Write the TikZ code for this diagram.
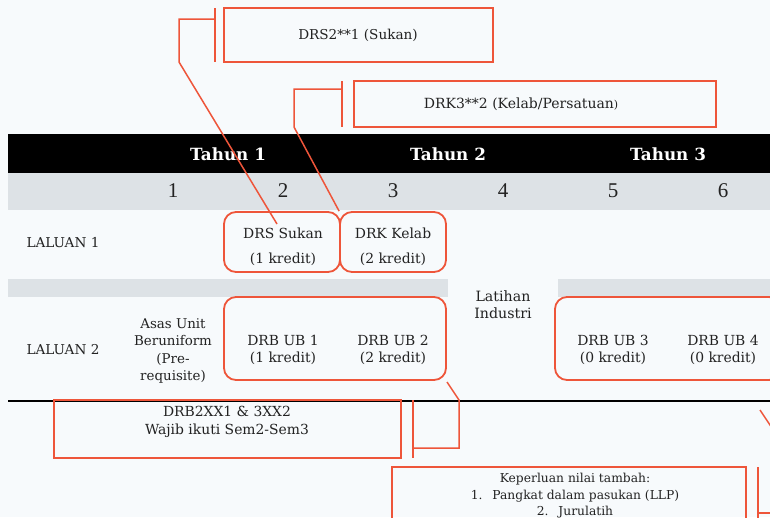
\documentclass[tikz,border=0pt]{standalone}
\usepackage{fontspec}
\setmainfont{DejaVu Serif}
\newfontfamily\numfont{Liberation Serif}
\definecolor{bgc}{HTML}{F7FAFC}
\definecolor{bandgray}{HTML}{DDE2E6}
\definecolor{callred}{HTML}{EE553A}
\definecolor{ink}{HTML}{222222}
\tikzset{
  txt/.style={text=ink, font=\fontsize{13.9}{17}\selectfont, inner sep=0pt, align=center},
  yearlbl/.style={text=white, font=\bfseries\fontsize{16.8}{20}\selectfont, inner sep=0pt},
  semlbl/.style={text=ink, font=\numfont\fontsize{21}{24}\selectfont, inner sep=0pt},
  rbox/.style={draw=callred, line width=1.8pt, rounded corners=12pt, inner sep=0pt},
  sbox/.style={draw=callred, line width=1.6pt, inner sep=0pt},
  lead/.style={draw=callred, line width=1.5pt},
}
\begin{document}
\begin{tikzpicture}[x=1pt, y=-1pt]
\useasboundingbox (0,0) rectangle (770,517);
\clip (0,0) rectangle (770,517);
\fill[bgc] (0,0) rectangle (770,517);

% table bands
\fill[black] (8,134) rectangle (770,173);
\fill[bandgray] (8,173) rectangle (770,210);
\fill[bandgray] (8,279) rectangle (448,297);
\fill[bandgray] (558,279) rectangle (770,297);
\draw[black, line width=1.8pt] (8,401) -- (770,401);

% year and semester headings
\node[yearlbl] (t1) at (228,154) {Tahun 1};
\node[yearlbl] (t2) at (448,154) {Tahun 2};
\node[yearlbl] (t3) at (668,154) {Tahun 3};
\foreach \i/\x in {1/173,2/283,3/393,4/503,5/613,6/723}
  \node[semlbl] (s\i) at (\x,191) {\i};

% row labels
\node[txt, font=\fontsize{13.6}{17}\selectfont] (lal1) at (63,243) {LALUAN 1};
\node[txt, font=\fontsize{13.6}{17}\selectfont] (lal2) at (63,350) {LALUAN 2};
\node[txt, font=\fontsize{13.4}{17.5}\selectfont] (asas) at (173,351) {Asas Unit\\Beruniform\\(Pre-\\requisite)};
\node[txt, font=\fontsize{14.2}{17}\selectfont] (lat) at (503,305) {Latihan\\Industri};

% laluan 1 boxes
\node[rbox, minimum width=116pt, minimum height=60pt] (drs) at (282,242) {};
\node[rbox, minimum width=106pt, minimum height=60pt] (drk) at (393,242) {};
\node[txt] (drsA) at (283,233) {DRS Sukan};
\node[txt] (drsB) at (283,259) {(1 kredit)};
\node[txt] (drkA) at (393,233) {DRK Kelab};
\node[txt] (drkB) at (393,259) {(2 kredit)};

% laluan 2 boxes
\node[rbox, minimum width=222pt, minimum height=83pt] (ubA) at (335,338.5) {};
\node[rbox, minimum width=226pt, minimum height=83pt] (ubB) at (668,338.5) {};
\node[txt] (ub1) at (283,350) {DRB UB 1\\(1 kredit)};
\node[txt] (ub2) at (393,350) {DRB UB 2\\(2 kredit)};
\node[txt] (ub3) at (613,350) {DRB UB 3\\(0 kredit)};
\node[txt] (ub4) at (723,350) {DRB UB 4\\(0 kredit)};

% callout notes
\node[sbox, minimum width=269pt, minimum height=54pt] (c1) at (358.5,35) {};
\node[txt, font=\fontsize{13.6}{16}\selectfont] (c1t) at (358,35) {DRS2**1 (Sukan)};
\node[sbox, minimum width=362pt, minimum height=46pt] (c2) at (535,104) {};
\node[txt, font=\fontsize{14}{17}\selectfont] (c2t) at (521,104) {DRK3**2 (Kelab/Persatuan{\fontsize{11}{13}\selectfont)}};
\node[sbox, minimum width=347pt, minimum height=58pt] (c3) at (227.5,429) {};
\node[txt, font=\fontsize{13.9}{18}\selectfont] (c3t) at (227,422) {DRB2XX1 \& 3XX2\\Wajib ikuti Sem2-Sem3};
\node[sbox, minimum width=354pt, minimum height=70pt] (c4) at (569,502) {};
\node[txt, font=\fontsize{12.3}{16.5}\selectfont, anchor=north] (c4t) at (575,473) {Keperluan nilai tambah:\\1.\hspace{0.8em}Pangkat dalam pasukan (LLP)\\2.\hspace{0.8em}Jurulatih};

% leader brackets
\coordinate (b1a) at (215,8);
\coordinate (b1b) at (215,62);
\coordinate (b1c) at (215,19);
\coordinate (b1d) at (179,19);
\coordinate (b1e) at (179,62);
\coordinate (b1f) at (277,224);
\draw[lead] (b1a) -- (b1b);
\draw[lead] (b1c) -- (b1d) -- (b1e) -- (b1f);

\coordinate (b2a) at (342,81);
\coordinate (b2b) at (342,127);
\coordinate (b2c) at (342,89);
\coordinate (b2d) at (294,89);
\coordinate (b2e) at (294,127);
\draw[lead] (b2a) -- (b2b);
\draw[lead] (b2c) -- (b2d) -- (b2e) -- (drk.north west);

\coordinate (b3a) at (413,400);
\coordinate (b3b) at (413,458);
\coordinate (b3c) at (413,448);
\coordinate (b3d) at (459,448);
\coordinate (b3e) at (459,400);
\coordinate (b3f) at (447,382);
\draw[lead] (b3a) -- (b3b);
\draw[lead] (b3c) -- (b3d) -- (b3e) -- (b3f);

\coordinate (b4a) at (760,410);
\coordinate (b4b) at (772,428);
\coordinate (b4c) at (758,467);
\coordinate (b4d) at (758,520);
\coordinate (b4e) at (758,513);
\coordinate (b4f) at (772,513);
\draw[lead] (b4a) -- (b4b);
\draw[lead] (b4c) -- (b4d);
\draw[lead] (b4e) -- (b4f);
\end{tikzpicture}
\end{document}
